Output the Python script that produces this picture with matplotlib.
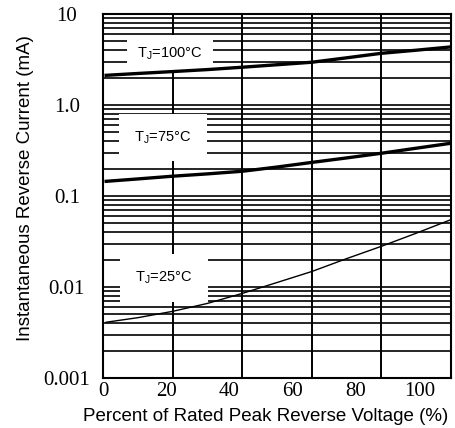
import numpy as np
import matplotlib
matplotlib.use("Agg")
import matplotlib.pyplot as plt

# percent of rated peak reverse voltage
pct = [1, 11, 22, 33, 44, 55, 66, 77, 88, 99, 110]

# instantaneous reverse current (mA)
i_100 = [2.12, 2.22, 2.33, 2.45, 2.6, 2.77, 2.95, 3.3, 3.7, 4.0, 4.35]
i_75 = [0.145, 0.154, 0.165, 0.175, 0.187, 0.208, 0.234, 0.262, 0.295, 0.335, 0.38]
i_25 = [0.0041, 0.0046, 0.0054, 0.0066, 0.0085, 0.0112, 0.0148, 0.0205, 0.028, 0.039, 0.055]

labels = ["T$_\\mathregular{J}$=100°C", "T$_\\mathregular{J}$=75°C", "T$_\\mathregular{J}$=25°C"]

xtick_vals = [0, 20, 40, 60, 80, 100]
ytick_vals = [0.001, 0.01, 0.1, 1.0, 10]
ytick_txt = ["0.001", "0.01", "0.1", "1.0", "10"]

fig = plt.figure(figsize=(4.55, 4.28), dpi=100)
ax = fig.add_axes([103 / 455, 1 - 378 / 428, 348 / 455, 364 / 428])
ax.set_yscale("log")
ax.set_xlim(0, 110)
ax.set_ylim(0.001, 10)

# horizontal grid: every decade step
for dec in [0.001, 0.01, 0.1, 1.0]:
    for k in range(1, 10):
        ax.axhline(dec * k, color="black", lw=1.2, zorder=1)
# vertical grid lines are at 22% steps, not at the labels
for gx in [22, 44, 66, 88]:
    ax.axvline(gx, color="black", lw=1.4, zorder=1)

ax.plot(pct, i_100, color="black", lw=2.4, zorder=3)
ax.plot(pct, i_75, color="black", lw=2.4, zorder=3)
ax.plot(pct, i_25, color="black", lw=1.0, zorder=3)

ax.text(21.2, 3.7, labels[0], ha="center", va="center", fontsize=10.5,
        family="Liberation Sans", zorder=2,
        bbox=dict(boxstyle="square,pad=0.7", fc="white", ec="none"))
ax.text(19.0, 0.44, labels[1], ha="center", va="center", fontsize=10.5,
        family="Liberation Sans", zorder=2,
        bbox=dict(boxstyle="square,pad=1.05", fc="white", ec="none"))
ax.text(19.3, 0.0126, labels[2], ha="center", va="center", fontsize=10.5,
        family="Liberation Sans", zorder=2,
        bbox=dict(boxstyle="square,pad=1.05", fc="white", ec="none"))

ax.set_xticks(xtick_vals)
ax.set_xticklabels([str(v) for v in xtick_vals], family="Liberation Serif", fontsize=15)
ax.set_yticks(ytick_vals)
ax.set_yticklabels(ytick_txt, family="Liberation Serif", fontsize=15)
ax.yaxis.set_minor_locator(matplotlib.ticker.NullLocator())
ax.tick_params(axis="both", length=0)
ax.tick_params(axis="x", pad=3)
ax.tick_params(axis="y", pad=26)
for t in ax.get_yticklabels():
    t.set_ha("center")

for s in ax.spines.values():
    s.set_linewidth(1.5)

ax.set_xlabel("Percent of Rated Peak Reverse Voltage (%)", family="Liberation Sans",
              fontsize=13.5)
ax.set_ylabel("Instantaneous Reverse Current (mA)", family="Liberation Sans",
              fontsize=13.5)
ax.xaxis.set_label_coords(0.466, -0.083)
ax.yaxis.set_label_coords(-0.197, 0.522)

fig.savefig("out.png", dpi=100)
